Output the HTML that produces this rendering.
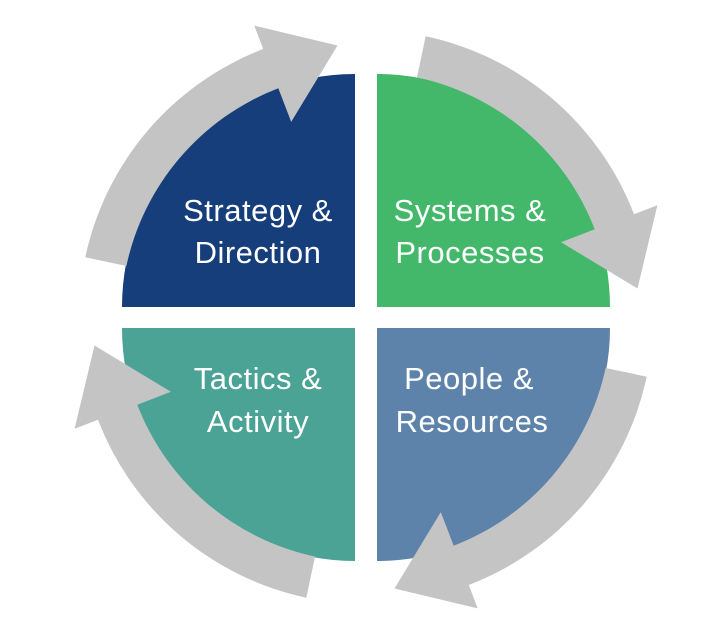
<!DOCTYPE html>
<html><head><meta charset="utf-8"><style>html,body{margin:0;padding:0;background:#fff}svg{display:block}</style></head>
<body>
<svg width="720" height="622" viewBox="0 0 720 622" xmlns="http://www.w3.org/2000/svg">
<path d="M355,307 L122,307 A233,233 0 0 1 355,74 Z" fill="#163e7b"/>
<path d="M377,307 L377,74 A233,233 0 0 1 610,307 Z" fill="#44b86a"/>
<path d="M355,328 L355,561 A233,233 0 0 1 122,328 Z" fill="#4aa394"/>
<path d="M377,328 L610,328 A233,233 0 0 1 377,561 Z" fill="#5e83ab"/>
<g fill="#c4c4c4">
<path id="a" d="M126.4,266 L85.3,257.3 A287,287 0 0 1 263.2,49 L254.3,25.6 L337.5,45.5 L291.2,121.9 L278.3,88.3 A245,245 0 0 0 126.4,266 Z"/>
<use href="#a" transform="rotate(90 366 317)"/>
<use href="#a" transform="rotate(180 366 317)"/>
<use href="#a" transform="rotate(270 366 317)"/>
</g>
<g fill="#fff" font-family="Liberation Sans, sans-serif" font-size="31" letter-spacing="0.5" text-anchor="middle">
<text x="258" y="221">Strategy &amp;</text>
<text x="258" y="263">Direction</text>
<text x="470" y="221">Systems &amp;</text>
<text x="470" y="263">Processes</text>
<text x="258" y="389">Tactics &amp;</text>
<text x="258" y="432">Activity</text>
<text x="469" y="389">People &amp;</text>
<text x="472" y="432">Resources</text>
</g>
</svg>
</body></html>
